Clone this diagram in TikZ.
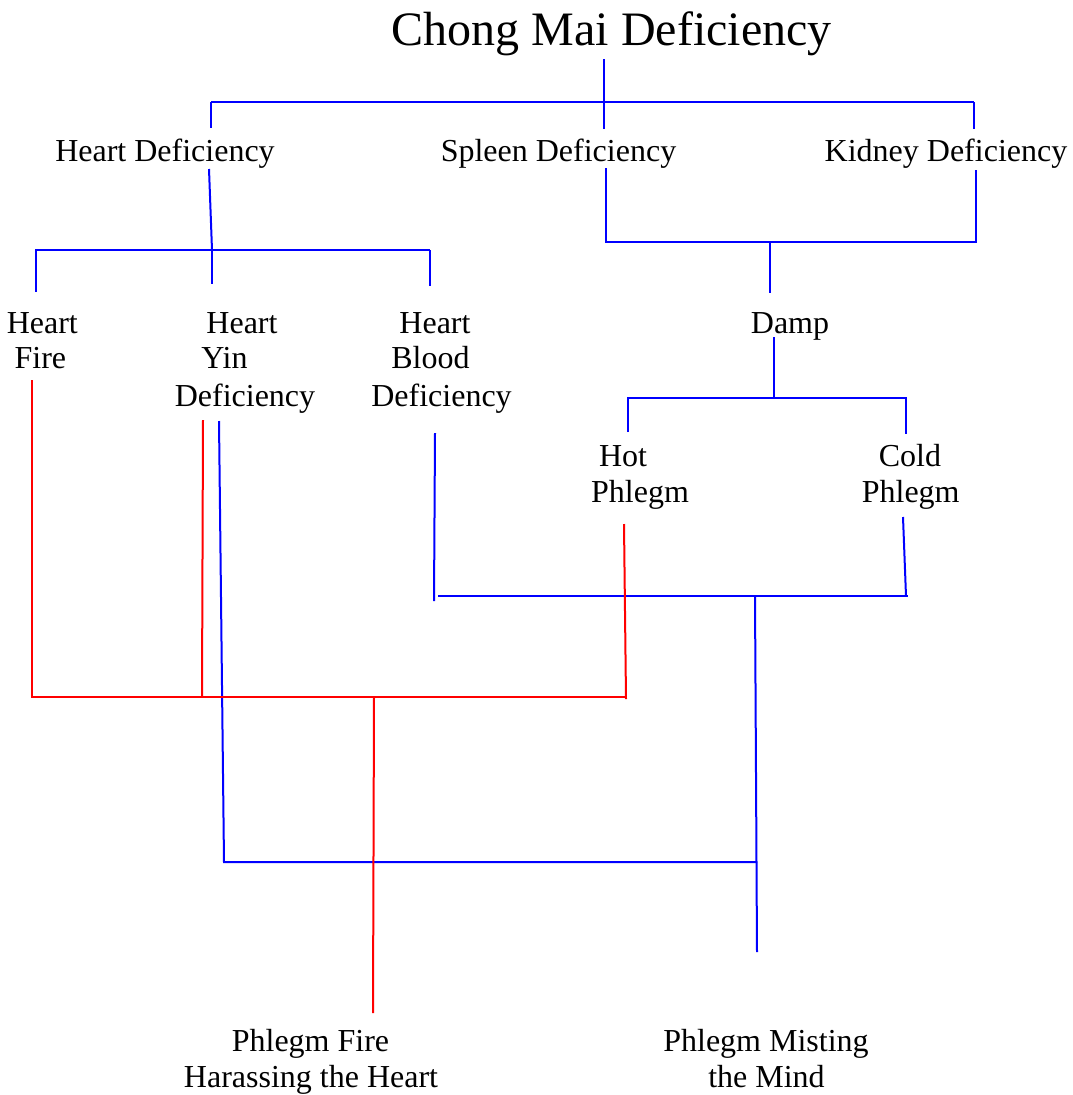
\documentclass[tikz,border=0pt]{standalone}
\usepackage{fontspec}
\setmainfont{Liberation Serif}
\begin{document}
\begin{tikzpicture}[x=1pt,y=-1pt,
  lbl/.style={anchor=base,inner sep=0pt,font=\fontsize{32}{36}\selectfont},
  ttl/.style={anchor=base,inner sep=0pt,font=\fontsize{48}{56}\selectfont},
  bl/.style={draw=blue,line width=2pt},
  rd/.style={draw=red,line width=2pt}]
\useasboundingbox (0,0) rectangle (1072,1095);
% texts
\node[ttl] (title) at (611.7,45) {Chong Mai Deficiency};
\node[lbl] (hd) at (165,161) {Heart Deficiency};
\node[lbl] (sd) at (558.5,161) {Spleen Deficiency};
\node[lbl] (kd) at (946,161) {Kidney Deficiency};
\node[lbl] (hf1) at (42.3,333) {Heart};
\node[lbl] (hf2) at (40.4,368.5) {Fire};
\node[lbl] (hy1) at (242,333) {Heart};
\node[lbl] (hy2) at (224.5,368.5) {Yin};
\node[lbl] (hy3) at (245,406) {Deficiency};
\node[lbl] (hb1) at (435,333) {Heart};
\node[lbl] (hb2) at (430.5,368.5) {Blood};
\node[lbl] (hb3) at (441.5,406) {Deficiency};
\node[lbl] (damp) at (790,333.3) {Damp};
\node[lbl] (hp1) at (623,466) {Hot};
\node[lbl] (hp2) at (640,502.5) {Phlegm};
\node[lbl] (cp1) at (910,466) {Cold};
\node[lbl] (cp2) at (910.7,502.5) {Phlegm};
\node[lbl] (pf1) at (310.5,1051) {Phlegm Fire};
\node[lbl] (pf2) at (311,1087) {Harassing the Heart};
\node[lbl] (pm1) at (766,1051) {Phlegm Misting};
\node[lbl] (pm2) at (766.5,1087) {the Mind};
% coordinates
\coordinate (t0) at (604,59);
\coordinate (t1) at (604,129);
\coordinate (tL) at (211,102);
\coordinate (tR) at (974,102);
\coordinate (tLb) at (211,128);
\coordinate (tRb) at (974,129);
\coordinate (h0) at (209,169);
\coordinate (h1) at (212,250);
\coordinate (hL) at (35,250);
\coordinate (hR) at (430,250);
\coordinate (hLa) at (36,250);
\coordinate (hLb) at (36,292);
\coordinate (hMb) at (212,284);
\coordinate (hRb) at (430,286);
\coordinate (s0) at (606,168);
\coordinate (s1) at (606,242);
\coordinate (k0) at (976,170);
\coordinate (k1) at (976,242);
\coordinate (d0) at (770,242);
\coordinate (d1) at (770,293);
\coordinate (dm0) at (774,337);
\coordinate (dm1) at (774,398);
\coordinate (dL) at (628,398);
\coordinate (dR) at (906,398);
\coordinate (dLb) at (628,432);
\coordinate (dRb) at (906,434);
\coordinate (c0) at (903,517);
\coordinate (c1) at (906,596);
\coordinate (mL) at (438,596);
\coordinate (mR) at (908,596);
\coordinate (b0) at (435,433);
\coordinate (b1) at (434,601);
\coordinate (v0) at (755,596);
\coordinate (v1) at (757,952);
\coordinate (y0) at (219,421);
\coordinate (y1) at (224,862);
\coordinate (lR) at (757,862);
\coordinate (f0) at (32,380);
\coordinate (f1) at (32,697);
\coordinate (yr0) at (203,420);
\coordinate (yr1) at (202,697);
\coordinate (p0) at (624,524);
\coordinate (p1) at (626,699);
\coordinate (rR) at (626,697);
\coordinate (rc0) at (374,697);
\coordinate (rc1) at (373,1013);
% blue connectors
\draw[bl] (t0) -- (t1);
\draw[bl] (tL) -- (tR);
\draw[bl] (tL) -- (tLb);
\draw[bl] (tR) -- (tRb);
\draw[bl] (h0) -- (h1);
\draw[bl] (hL) -- (hR);
\draw[bl] (hLa) -- (hLb);
\draw[bl] (h1) -- (hMb);
\draw[bl] (hR) -- (hRb);
\draw[bl] (s0) -- (s1) -- (k1) -- (k0);
\draw[bl] (d0) -- (d1);
\draw[bl] (dm0) -- (dm1);
\draw[bl] (dLb) -- (dL) -- (dR) -- (dRb);
\draw[bl] (c0) -- (c1);
\draw[bl] (mL) -- (mR);
\draw[bl] (b0) -- (b1);
\draw[bl] (v0) -- (v1);
\draw[bl] (y0) -- (y1) -- (lR);
% red connectors
\draw[rd] (f0) -- (f1) -- (rR);
\draw[rd] (yr0) -- (yr1);
\draw[rd] (p0) -- (p1);
\draw[rd] (rc0) -- (rc1);
\end{tikzpicture}
\end{document}
